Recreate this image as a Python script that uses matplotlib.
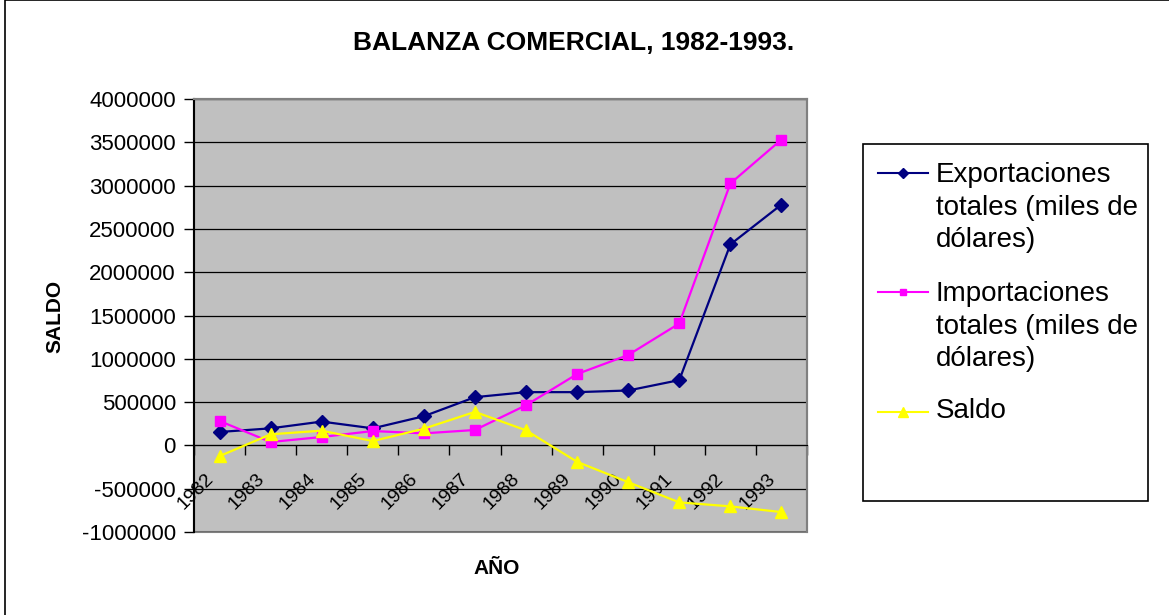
import numpy as np
import matplotlib
matplotlib.use("Agg")
import matplotlib.pyplot as plt
from matplotlib.patches import Rectangle
from matplotlib.lines import Line2D
from matplotlib.transforms import ScaledTranslation

plt.rcParams['font.family'] = ['Liberation Sans', 'DejaVu Sans']

years = ['1982', '1983', '1984', '1985', '1986', '1987',
         '1988', '1989', '1990', '1991', '1992', '1993']
exportaciones = [155000, 197000, 275000, 197000, 337000, 557000,
                 615000, 615000, 634000, 754000, 2321000, 2781000]
importaciones = [282000, 39000, 97000, 166000, 139000, 178000,
                 464000, 824000, 1044000, 1408000, 3025000, 3532000]
saldo = [-124000, 128000, 170000, 50000, 193000, 387000,
         174000, -190000, -425000, -658000, -704000, -770000]

labels = ['Exportaciones\ntotales (miles de\ndólares)',
          'Importaciones\ntotales (miles de\ndólares)',
          'Saldo']
colors = ['#000080', '#FF00FF', '#FFFF00']
markers = ['D', 's', '^']
msizes = [7, 7, 9]

W, H = 1169, 615
fig = plt.figure(figsize=(W / 100, H / 100), dpi=100)

def fx(px):
    return px / W

def fy(py):
    return 1 - py / H

# outer chart border
fig.add_artist(Rectangle((fx(5), fy(640)), fx(1200), 640 / H, fill=False,
                         edgecolor='black', lw=1.2, transform=fig.transFigure))

ax = fig.add_axes([fx(194), fy(532), fx(807 - 194), (532 - 99) / H])
ax.set_facecolor('#C0C0C0')

x = np.arange(len(years))
series = [exportaciones, importaciones, saldo]
for vals, c, m, ms in zip(series, colors, markers, msizes):
    ax.plot(x, vals, color=c, marker=m, markersize=ms, lw=1.6, zorder=3)

ax.set_xlim(-0.5, 11.5)
ax.set_ylim(-1000000, 4000000)
ax.set_yticks(np.arange(-1000000, 4000001, 500000))
ax.set_yticklabels([str(v) for v in range(-1000000, 4000001, 500000)])
ax.yaxis.grid(True, color='black', lw=0.9)
ax.set_axisbelow(True)

ax.spines['bottom'].set_position(('data', 0))
ax.spines['bottom'].set_color('black')
ax.spines['left'].set_color('black')
ax.spines['left'].set_linewidth(1.5)
ax.spines['top'].set_color('#808080')
ax.spines['right'].set_color('#808080')
ax.spines['top'].set_linewidth(1.5)
ax.spines['right'].set_linewidth(1.5)
ax.add_patch(Rectangle((0, 0), 1, 1, fill=False, edgecolor='#808080',
                       lw=1.5, transform=ax.transAxes, zorder=0.5, clip_on=False))

ax.set_xticks(x)
ax.set_xticklabels(years)
ax.set_xticks(np.arange(-0.5, 12, 1), minor=True)
ax.tick_params(axis='x', which='major', length=0, pad=18, labelsize=14)
ax.tick_params(axis='x', which='minor', length=7, width=1, direction='out', color='black')
ax.tick_params(axis='y', length=7, width=1, direction='out', pad=6, labelsize=16)
offset = ScaledTranslation(-15 / 100, 0, fig.dpi_scale_trans)
for lab in ax.get_xticklabels():
    lab.set_rotation(45)
    lab.set_ha('right')
    lab.set_va('top')
    lab.set_rotation_mode('anchor')
    lab.set_transform(lab.get_transform() + offset)

fig.text(fx(574), fy(43), 'BALANZA COMERCIAL, 1982-1993.', ha='center', va='center',
         fontsize=19, fontweight='bold')
fig.text(fx(55), fy(316), 'SALDO', rotation=90, ha='center', va='center',
         fontsize=15, fontweight='bold')
fig.text(fx(497), fy(568), 'AÑO', ha='center', va='center',
         fontsize=15, fontweight='bold')

# legend box
fig.add_artist(Rectangle((fx(863), fy(501)), fx(1148 - 863), (501 - 144) / H, fill=False,
                         edgecolor='black', lw=1.2, transform=fig.transFigure))
handle_y = [173, 292, 412]
text_top = [162, 281, 398]
for lab, c, m, ms, hy, ty in zip(labels, colors, markers, msizes, handle_y, text_top):
    fig.add_artist(Line2D([fx(878), fx(928)], [fy(hy), fy(hy)], color=c, lw=1.5,
                          transform=fig.transFigure))
    fig.add_artist(Line2D([fx(903)], [fy(hy)], color=c, marker=m, markersize=ms - 2,
                          transform=fig.transFigure))
    fig.text(fx(936), fy(ty), lab, ha='left', va='top', fontsize=20, linespacing=1.33)

fig.savefig('out.png', dpi=100)
